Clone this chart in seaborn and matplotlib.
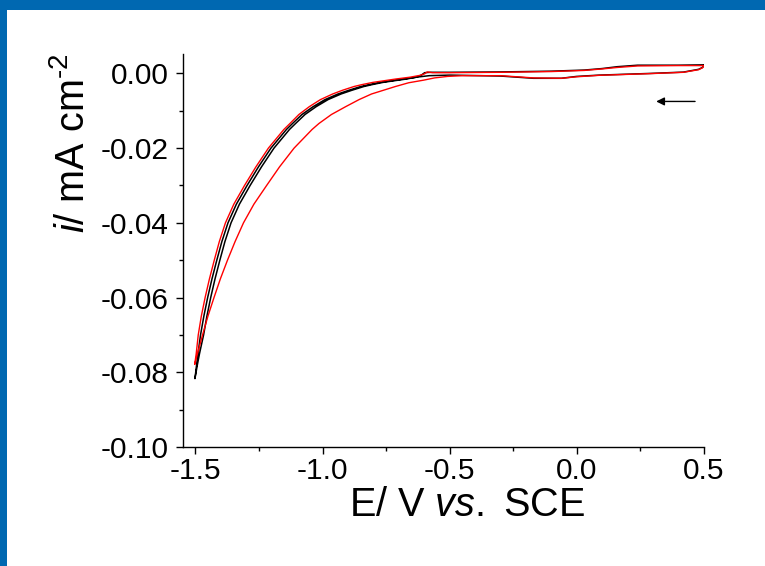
import numpy as np
import pandas as pd
import seaborn as sns
import matplotlib
matplotlib.use("Agg")
import matplotlib.pyplot as plt
from matplotlib.patches import Rectangle
from matplotlib.ticker import MultipleLocator

# ---------------- data ----------------
# black curve: cathodic branch (0.5 V -> -1.5 V)
black_cat_E = [0.504, 0.495, 0.48, 0.42, 0.29, 0.09, 0.0, -0.06, -0.17, -0.30, -0.50, -0.58,
               -0.63, -0.67, -0.722, -0.762, -0.805, -0.837, -0.884, -0.927, -0.978, -1.025,
               -1.069, -1.106, -1.130, -1.191, -1.240, -1.285, -1.327, -1.360, -1.384,
               -1.404, -1.423, -1.440, -1.455, -1.468, -1.484, -1.4925, -1.502]
black_cat_i = [0.0023, 0.0016, 0.0011, 0.00035, 0.0, -0.00045, -0.0008, -0.0013, -0.0013,
               -0.0007, -0.00045, -0.0006, -0.0010, -0.0015, -0.002, -0.0024, -0.003,
               -0.0035, -0.0045, -0.0055, -0.007, -0.0089, -0.011, -0.0134, -0.015, -0.02,
               -0.025, -0.03, -0.035, -0.04, -0.045, -0.05, -0.055, -0.06, -0.065, -0.07,
               -0.075, -0.078, -0.0817]
# black curve: anodic branch (-1.5 V -> 0.5 V)
black_ano_E = [-1.4955, -1.490, -1.480, -1.467, -1.452, -1.435, -1.416, -1.396, -1.372,
               -1.339, -1.297, -1.252, -1.203, -1.142, -1.118, -1.081, -1.037, -0.990,
               -0.939, -0.896, -0.849, -0.817, -0.774, -0.734, -0.683, -0.630, -0.610,
               -0.598, -0.575, -0.50, -0.30, -0.10, 0.03, 0.10, 0.16, 0.24, 0.40, 0.504]
black_ano_i = [-0.078, -0.075, -0.07, -0.065, -0.06, -0.055, -0.05, -0.045, -0.04, -0.035,
               -0.03, -0.025, -0.02, -0.015, -0.0134, -0.011, -0.0089, -0.007, -0.0055,
               -0.0045, -0.0035, -0.003, -0.0024, -0.002, -0.0015, -0.0010, -0.0004,
               0.0002, 0.0003, 0.0003, 0.0004, 0.0006, 0.0009, 0.0013, 0.0018, 0.0022,
               0.0022, 0.0023]

# red curve: cathodic branch
red_cat_E = [0.504, 0.495, 0.48, 0.42, 0.29, 0.09, 0.0, -0.06, -0.17, -0.30, -0.45, -0.508,
             -0.559, -0.602, -0.661, -0.713, -0.760, -0.807, -0.856, -0.909, -0.965,
             -1.014, -1.041, -1.112, -1.169, -1.220, -1.270, -1.311, -1.344, -1.374,
             -1.402, -1.427, -1.451, -1.472, -1.492, -1.503]
red_cat_i = [0.0021, 0.0015, 0.0010, 0.0003, -0.00005, -0.0005, -0.0009, -0.0013, -0.0012,
             -0.0006, -0.0006, -0.0008, -0.0012, -0.0018, -0.0025, -0.0035, -0.0045,
             -0.0055, -0.007, -0.0089, -0.011, -0.0134, -0.015, -0.02, -0.025, -0.03,
             -0.035, -0.04, -0.045, -0.05, -0.055, -0.06, -0.065, -0.07, -0.075, -0.0779]
# red curve: anodic branch
red_ano_E = [-1.497, -1.489, -1.477, -1.462, -1.445, -1.426, -1.406, -1.382, -1.349,
             -1.307, -1.262, -1.213, -1.152, -1.128, -1.093, -1.052, -1.008, -0.960,
             -0.921, -0.876, -0.845, -0.802, -0.762, -0.712, -0.655, -0.615, -0.598,
             -0.588, -0.567, -0.50, -0.30, -0.10, 0.03, 0.10, 0.16, 0.24, 0.40, 0.504]
red_ano_i = [-0.075, -0.07, -0.065, -0.06, -0.055, -0.05, -0.045, -0.04, -0.035, -0.03,
             -0.025, -0.02, -0.015, -0.0134, -0.011, -0.0089, -0.007, -0.0055, -0.0045,
             -0.0035, -0.003, -0.0024, -0.002, -0.0015, -0.0010, -0.0005, -0.0001, 0.0004,
             0.0002, 0.0002, 0.0003, 0.0005, 0.0008, 0.0012, 0.0016, 0.0020, 0.0021, 0.0021]

# scan-direction arrow (tail E, head E, current)
arrow_E = [0.466, 0.313]
arrow_i = -0.0075

x_ticks = [-1.5, -1.0, -0.5, 0.0, 0.5]
y_ticks = [-0.10, -0.08, -0.06, -0.04, -0.02, 0.00]

# ---------------- style ----------------
sns.set_theme(style="ticks")
plt.rcParams["font.family"] = ["Liberation Sans", "DejaVu Sans"]
plt.rcParams["mathtext.fontset"] = "custom"
plt.rcParams["mathtext.rm"] = "Liberation Sans"
plt.rcParams["mathtext.it"] = "Liberation Sans:italic"
plt.rcParams["axes.linewidth"] = 1.0

fig = plt.figure(figsize=(7.65, 5.66), dpi=100)
fig.patch.set_facecolor("white")
ax = fig.add_axes([183 / 765, 1 - 447 / 566, (703.7 - 183) / 765, (447 - 54) / 566])
ax.set_facecolor("white")

def branch_df(E1, i1, E2, i2):
    E = list(E1) + list(E2)
    i = list(i1) + list(i2)
    return pd.DataFrame({"E": E, "i": i, "k": np.arange(len(E))})

df_black = branch_df(black_cat_E, black_cat_i, black_ano_E, black_ano_i)
df_red = branch_df(red_cat_E, red_cat_i, red_ano_E, red_ano_i)

sns.lineplot(data=df_black, x="E", y="i", sort=False, estimator=None, color="black",
             lw=1.1, ax=ax)
sns.lineplot(data=df_red, x="E", y="i", sort=False, estimator=None, color="#ff0000",
             lw=1.0, ax=ax)

ax.annotate("", xy=(arrow_E[1], arrow_i), xytext=(arrow_E[0], arrow_i),
            arrowprops=dict(arrowstyle="-|>", color="black", lw=1.0,
                            mutation_scale=12, shrinkA=0, shrinkB=0))

ax.set_xlim(-1.549, 0.5)
ax.set_ylim(-0.10, 0.0052)
ax.set_xticks(x_ticks)
ax.set_xticklabels([f"{v:.1f}" for v in x_ticks])
ax.set_yticks(y_ticks)
ax.set_yticklabels([f"{v:.2f}" for v in y_ticks])
ax.xaxis.set_minor_locator(MultipleLocator(0.25))
ax.yaxis.set_minor_locator(MultipleLocator(0.01))

for s in ["top", "right"]:
    ax.spines[s].set_visible(False)
for s in ["left", "bottom"]:
    ax.spines[s].set_color("black")
    ax.spines[s].set_linewidth(1.0)

ax.tick_params(axis="both", which="major", direction="out", length=5, width=1.0,
               color="black", labelsize=21.5, labelcolor="black")
ax.tick_params(axis="both", which="minor", direction="out", length=3, width=1.0,
               color="black")
ax.tick_params(axis="x", which="major", pad=2.5)
ax.tick_params(axis="y", which="major", pad=5.5)

ax.set_xlabel("$\\mathrm{E/\\ V\\ }\\mathit{vs.}\\mathrm{\\ SCE}$", fontsize=28.5,
              color="black")
ax.set_ylabel("$\\it{i}$/ mA cm$^{\\text{-}2}$", fontsize=28.5, color="black")
ax.xaxis.set_label_coords(0.545, -0.100)
ax.yaxis.set_label_coords(-0.175, 0.7735)

# blue frame (top and left)
blue = "#0068b1"
fig.patches.append(Rectangle((0, 1 - 9.5 / 566), 1, 9.5 / 566, transform=fig.transFigure,
                             facecolor=blue, edgecolor="none", zorder=10))
fig.patches.append(Rectangle((0, 0), 7.3 / 765, 1, transform=fig.transFigure,
                             facecolor=blue, edgecolor="none", zorder=10))

fig.savefig("out.png", dpi=100, facecolor="white")
